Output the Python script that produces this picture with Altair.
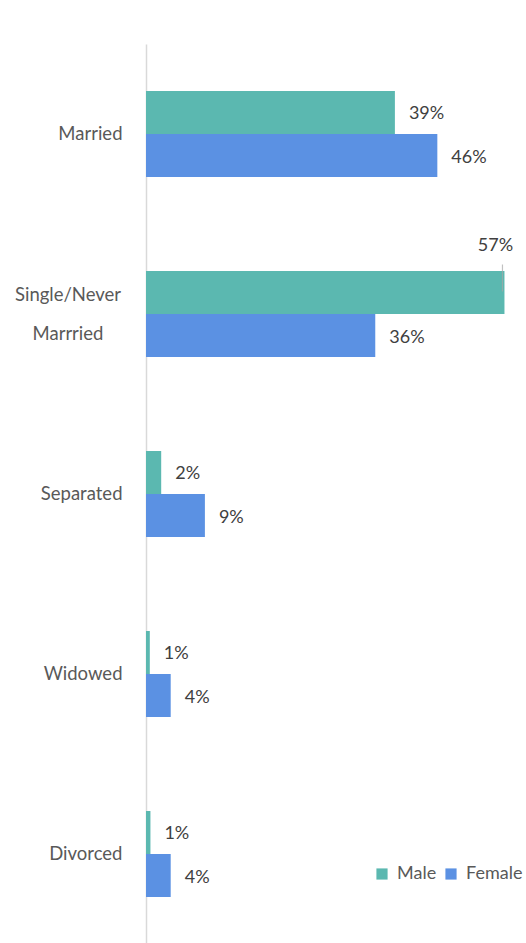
import altair as alt
import pandas as pd

categories = ["Married", "Single/Never Marrried", "Separated", "Widowed", "Divorced"]
male = [39.3, 56.6, 2.4, 0.6, 0.7]
female = [46.0, 36.2, 9.3, 3.9, 3.9]
series = ["Male", "Female"]
colors = ["#5BB8B0", "#5B91E3"]
wrapped_label = {"Single/Never Marrried": ["Single/Never", "Marrried"]}

rows = []
for c, m, f in zip(categories, male, female):
    rows.append({"cat": c, "sex": "Male", "v": m, "lab": f"{round(m)}%"})
    rows.append({"cat": c, "sex": "Female", "v": f, "lab": f"{round(f)}%"})
df = pd.DataFrame(rows)
df["special"] = (df["cat"] == "Single/Never Marrried") & (df["sex"] == "Male")

wrap_df = pd.DataFrame(
    [{"cat": k, "txt": "\n".join(v)} for k, v in wrapped_label.items()]
)

FONT = "Lato"
label_expr = "datum.value == 'Single/Never Marrried' ? '' : datum.label"

y_enc = alt.Y(
    "cat:N",
    sort=categories,
    scale=alt.Scale(paddingInner=0.522, paddingOuter=0.261),
    axis=alt.Axis(
        title=None,
        ticks=False,
        domainColor="#D9D9D9",
        domainWidth=1.5,
        labelFont=FONT,
        labelFontSize=18.5,
        labelColor="#595959",
        labelPadding=24,
        labelExpr=label_expr,
    ),
)
yoff = alt.YOffset("sex:N", sort=series, scale=alt.Scale(paddingInner=0, paddingOuter=0))
x_enc = alt.X("v:Q", scale=alt.Scale(domain=[0, 60]), axis=None)

base = alt.Chart(df)

bars = base.mark_bar().encode(
    x=x_enc,
    y=y_enc,
    yOffset=yoff,
    color=alt.Color(
        "sex:N",
        sort=series,
        scale=alt.Scale(domain=series, range=colors),
        legend=alt.Legend(
            title=None,
            orient="none",
            legendX=227,
            legendY=821,
            direction="horizontal",
            symbolType="square",
            symbolSize=125,
            symbolStrokeWidth=0,
            labelFont=FONT,
            labelFontSize=18,
            labelColor="#595959",
            columnPadding=5,
            labelOffset=6,
        ),
    ),
)

labels = base.transform_filter("!datum.special").mark_text(
    align="left", baseline="middle", dx=14, dy=2, font=FONT, fontSize=18, color="#404040"
).encode(x=x_enc, y=y_enc, yOffset=yoff, text="lab:N")

special = base.transform_filter("datum.special").mark_text(
    align="center", baseline="middle", dx=-9, dy=-68, font=FONT, fontSize=18, color="#404040"
).encode(x=x_enc, y=y_enc, text="lab:N")

leader = base.transform_filter("datum.special").mark_tick(
    size=27, thickness=1.2, color="#A6A6A6", yOffset=-36, xOffset=-2
).encode(x=x_enc, y=y_enc)

wrap_text = alt.Chart(wrap_df).mark_text(
    align="center", baseline="middle", lineBreak="\n", lineHeight=39, dy=-19,
    font=FONT, fontSize=18.5, color="#595959"
).encode(
    x=alt.value(-78),
    y=alt.Y("cat:N", sort=categories, scale=alt.Scale(paddingInner=0.522, paddingOuter=0.261)),
    text="txt:N",
)

chart = (
    alt.layer(bars, labels, special, leader, wrap_text)
    .properties(
        width=380,
        height=900,
        autosize=alt.AutoSizeParams(type="none"),
        padding={"left": 146, "top": 44, "right": 0, "bottom": 0},
    )
    .configure_view(stroke=None)
    .configure_axis(grid=False)
)

chart.save("out.html", embed_options={"renderer": "svg", "actions": False})
